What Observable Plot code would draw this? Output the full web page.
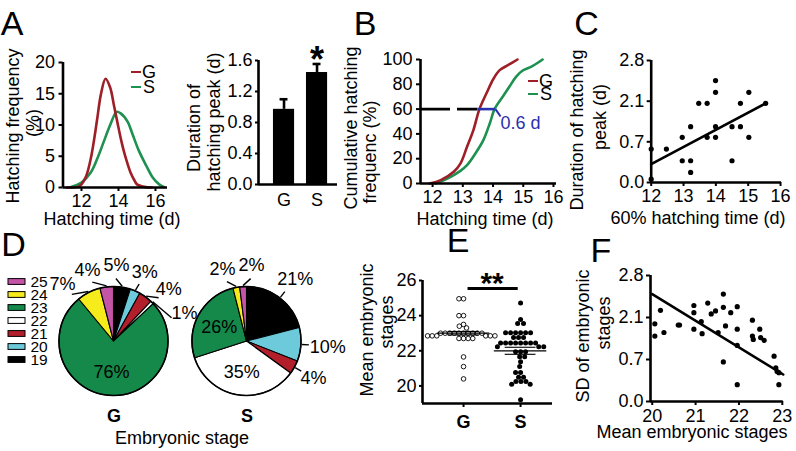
<!DOCTYPE html>
<html><head><meta charset="utf-8">
<script src="https://cdn.jsdelivr.net/npm/d3@7"></script>
<script src="https://cdn.jsdelivr.net/npm/@observablehq/plot@0.6"></script>
<style>
html,body{margin:0;padding:0;background:#fff;}
#root{position:relative;width:796px;height:451px;overflow:hidden;background:#fff;font-family:"Liberation Sans",Arial,sans-serif;color:#000;}
#root svg{position:absolute;left:0;top:0;overflow:visible;}
.lbl{position:absolute;white-space:nowrap;line-height:1;font-size:18px;}
#root svg [aria-label^="x-axis"] line, #root svg [aria-label^="x-axis"] path,
#root svg [aria-label^="y-axis"] line, #root svg [aria-label^="y-axis"] path{stroke-width:2px;}
.boldx [aria-label^="x-axis"] text{font-weight:bold;}
</style></head>
<body><div id="root"></div>
<script>
// ---------------- DATA ----------------
// Panel A (left): hatching frequency curves
const hatchTimeG = [11.2, 11.8, 12.0, 12.25, 12.5, 12.7, 12.85, 13.05, 13.3, 13.55, 13.75, 13.95, 14.15, 14.3, 14.5, 14.65, 14.85, 15.0, 15.4, 15.8];
const hatchFreqG = [0, 0.1, 0.5, 1.8, 4.6, 8, 11, 14.9, 17.4, 16, 13.2, 10.3, 7.5, 5.7, 3.7, 2.4, 1.2, 0.5, 0.1, 0];
const hatchTimeS = [11.4, 12.0, 12.5, 12.85, 13.2, 13.55, 13.9, 14.1, 14.5, 14.75, 15.1, 15.5, 15.85, 16.2, 16.45];
const hatchFreqS = [0.05, 0.8, 2.4, 4.6, 7.3, 10, 12.1, 11.9, 10.5, 8.6, 5.9, 3.5, 1.6, 0.5, 0.1];
// Panel A (right): duration of hatching peak
const barGroups = ["G", "S"];
const barMean = [0.97, 1.445];
const barErr = [0.13, 0.11];
const barSig = ["", "*"];
// Panel B: cumulative hatching frequency
const cumTimeG = [11.9, 12.27, 12.7, 12.92, 13.14, 13.35, 13.55, 13.78, 14.02, 14.22, 14.49, 14.81];
const cumFreqG = [0, 2.7, 9.4, 16, 29.6, 43, 60, 72.6, 84.7, 91.4, 95.4, 100];
const cumTimeS = [12.1, 12.49, 12.92, 13.14, 13.41, 13.68, 13.9, 14.05, 14.32, 14.54, 14.76, 14.97, 15.3, 15.64];
const cumFreqS = [0, 4, 10.2, 14.8, 24, 35, 49, 60, 70, 78, 86, 90.9, 94.6, 100];
const bLevel = 60, bStart = 11.6, bCrossG = 13.5, bCrossS = 14.08, bNote = "0.6 d";
// Panel C: 60% hatching time vs duration of hatching peak
const cTime = [12, 12, 12.47, 12.96, 12.96, 13.22, 13.22, 13.22, 13.47, 13.73, 13.73, 13.99, 13.99, 13.99, 13.99, 14.5, 14.5, 14.76, 14.76, 15.02, 15.02, 15.54];
const cDur  = [0.575, 0.058, 0.575, 0.853, 0.374, 1.221, 0.374, 0.173, 2.026, 2.026, 0.853, 2.454, 2.253, 1.221, 0.853, 1.221, 0.374, 2.026, 1.221, 2.253, 0.853, 2.026];
const cFitX = [12, 15.54], cFitY = [0.316, 2.026];
const cfTicks = [0.0, 0.7, 2.1, 2.8];
// Panel D: embryonic stage composition
const stages = ["25", "24", "23", "22", "21", "20", "19"];
const stageColors = ["#c454a6", "#f6ec1c", "#15894a", "#ffffff", "#b21f2b", "#6ccadb", "#000000"];
const pieGroups = ["G", "S"];
const pieOrder = ["19", "20", "21", "22", "23", "24", "25"];
const piePctG = [5, 3, 4, 1, 76, 7, 4];
const piePctS = [21, 10, 4, 35, 26, 2, 2];
// Panel E: mean embryonic stages
const eGroups = ["G", "S"];
const eValsG = [24.96, 24.96, 24.0, 24.0, 23.5, 23.4, 23.3, 23.0, 23.0, 23.0, 23.0, 23.0, 23.0, 23.0, 23.0, 23.0, 23.0,
  22.85, 22.85, 22.85, 22.85, 22.85, 22.85, 22.7, 22.7, 22.7, 22.7, 21.65, 21.1, 20.4];
const eValsS = [24.72, 23.78, 23.55, 23.55, 23.02, 23.02, 23.02, 23.02, 23.02, 23.02, 22.76, 22.76, 22.76,
  22.45, 22.45, 22.45, 22.45, 22.45, 22.45, 22.45, 22.45, 22.23, 22.23, 22.23, 21.94, 21.94, 21.94,
  21.66, 21.66, 21.38, 21.1, 20.76, 20.76, 20.5, 20.5, 20.25, 20.25, 20.25, 20.1, 20.1, 19.21];
const eMean = [23.0, 22.0];
const eSem = [0.1, 0.2];
const eSigLevel = 25.55, eSigLabel = "**";
// Panel F: mean embryonic stage vs SD
const fMean = [20.06, 20.06, 20.19, 20.27, 20.6, 20.63, 20.96, 20.96, 20.96, 21.13, 21.15, 21.28, 21.36, 21.46, 21.52, 21.64, 21.64, 21.69, 21.64, 21.81, 21.96, 21.96, 21.96, 21.96, 22.31, 22.31, 22.33, 22.48, 22.5, 22.58, 22.81, 22.85, 22.88, 22.92, 22.92];
const fSD   = [1.89, 1.48, 2.22, 1.6, 1.85, 1.85, 2.3, 2.18, 1.71, 1.96, 1.56, 2.34, 2.16, 2.21, 1.6, 2.49, 2.27, 1.82, 0.66, 2.18, 2.28, 1.71, 1.17, 0.28, 2.01, 1.48, 1.37, 1.71, 1.43, 1.34, 0.81, 0.56, 0.5, 0.48, 0.28];
const fFitX = [20, 23.02], fFitY = [2.49, 0.45];

// ---------------- STYLE / LAYOUT ----------------
const FONT = '"Liberation Sans", Arial, sans-serif';
const W = 796, H = 451;
const RED = "#9e1f27", GREEN = "#1e9150", BLUE = "#2a30b0";
const AX = 2.6; // axis line width
const fInt = d3.format("d"), f1 = d3.format(".1f");
const root = document.getElementById("root");

function addPlot(frame, opts, cls) {
  const svg = Plot.plot({
    width: W, height: H,
    marginLeft: frame[0], marginRight: W - frame[1], marginTop: frame[2], marginBottom: H - frame[3],
    style: {background: "transparent", fontFamily: FONT, fontSize: "18px", color: "black", overflow: "visible"},
    ...opts
  });
  if (cls) svg.classList.add(cls);
  root.appendChild(svg);
  return svg;
}
function htext(txt, cx, cy, o = {}) {
  const d = document.createElement("div");
  d.className = "lbl";
  d.textContent = txt;
  d.style.left = cx + "px"; d.style.top = cy + "px";
  d.style.fontSize = (o.size || 18) + "px";
  if (o.weight) d.style.fontWeight = o.weight;
  if (o.color) d.style.color = o.color;
  d.style.transform = "translate(-50%,-50%)" + (o.rotate ? " rotate(-90deg)" : "");
  root.appendChild(d);
}
function legendItem(x, y, color, label) {
  const dash = document.createElement("div");
  dash.style.cssText = `position:absolute;left:${x}px;top:${y - 1.3}px;width:10px;height:2.6px;background:${color}`;
  root.appendChild(dash);
  htext(label, x + 18, y);
}
const zip = (xs, ys, kx, ky) => xs.map((v, i) => ({[kx]: v, [ky]: ys[i]}));

// ---------- Panel A left ----------
{
  const x0 = 11;
  addPlot([62.5, 167, 62, 187], {
    x: {domain: [x0, 16.65], ticks: [12, 14, 16], tickFormat: fInt, tickSize: 4, tickPadding: 3, label: null},
    y: {domain: [0, 20], ticks: [0, 5, 10, 15, 20], tickFormat: fInt, tickSize: 4, tickPadding: 4, label: null},
    marks: [
      Plot.line(zip(hatchTimeS, hatchFreqS, "t", "f"), {x: "t", y: "f", stroke: GREEN, strokeWidth: 2.6, curve: "catmull-rom"}),
      Plot.line(zip(hatchTimeG, hatchFreqG, "t", "f"), {x: "t", y: "f", stroke: RED, strokeWidth: 2.6, curve: "catmull-rom"}),
      Plot.ruleY([0], {strokeWidth: AX}),
      Plot.ruleX([x0], {strokeWidth: AX})
    ]
  });
  legendItem(131, 72, RED, "G");
  legendItem(131, 87, GREEN, "S");
}
// ---------- Panel A right ----------
{
  const x0 = 0.227;
  const bars = barGroups.map((g, i) => ({i: i + 1, mean: barMean[i], hi: barMean[i] + barErr[i], sig: barSig[i]}));
  addPlot([258, 337, 60, 184], {
    x: {domain: [x0, 2.62], ticks: [1, 2], tickFormat: d => barGroups[d - 1], tickSize: 0, tickPadding: 9, label: null},
    y: {domain: [0, 1.6], ticks: [0, 0.4, 0.8, 1.2, 1.6], tickFormat: f1, tickSize: 3, tickPadding: 3, label: null},
    marks: [
      Plot.rectY(bars, {x1: d => d.i - 0.32, x2: d => d.i + 0.32, y1: 0, y2: "mean", fill: "black"}),
      Plot.ruleX(bars, {x: "i", y1: "mean", y2: "hi", strokeWidth: 2.6}),
      Plot.ruleY(bars, {y: "hi", x1: d => d.i - 0.12, x2: d => d.i + 0.12, strokeWidth: 2.6}),
      Plot.text(bars, {x: "i", y: "hi", text: "sig", dy: -4, fontSize: 36, fontWeight: "bold"}),
      Plot.ruleY([0], {strokeWidth: AX}),
      Plot.ruleX([x0], {strokeWidth: AX})
    ]
  });
}
// ---------- Panel B ----------
{
  const x0 = 11.6;
  addPlot([420, 556, 59, 183], {
    x: {domain: [x0, 16.1], ticks: [12, 13, 14, 15, 16], tickFormat: fInt, tickSize: 4, tickPadding: 3, label: null},
    y: {domain: [0, 100], ticks: [0, 20, 40, 60, 80, 100], tickFormat: fInt, tickSize: 4, tickPadding: 4, label: null},
    marks: [
      Plot.ruleY([bLevel], {x1: bStart, x2: bCrossG, strokeWidth: 2.6, strokeDasharray: "30,7"}),
      Plot.line(zip(cumTimeS, cumFreqS, "t", "f"), {x: "t", y: "f", stroke: GREEN, strokeWidth: 2.6, curve: "catmull-rom"}),
      Plot.line(zip(cumTimeG, cumFreqG, "t", "f"), {x: "t", y: "f", stroke: RED, strokeWidth: 2.6, curve: "catmull-rom"}),
      Plot.ruleY([bLevel], {x1: bCrossG, x2: bCrossS, stroke: BLUE, strokeWidth: 2.6}),
      Plot.link([bNote], {x1: bCrossS, y1: bLevel, x2: bCrossS + 0.17, y2: bLevel - 6, stroke: BLUE, strokeWidth: 2}),
      Plot.text([bNote], {x: bCrossS + 0.17, y: bLevel - 11, text: d => d, fill: BLUE, textAnchor: "start", fontSize: 18}),
      Plot.ruleY([0], {strokeWidth: AX}),
      Plot.ruleX([x0], {strokeWidth: AX})
    ]
  });
  legendItem(528, 81, RED, "G");
  legendItem(528, 94, GREEN, "S");
}
// ---------- Panel C ----------
{
  const x0 = 12;
  addPlot([650.7, 781, 60, 182], {
    x: {domain: [x0, 16.03], ticks: [12, 13, 14, 15, 16], tickFormat: fInt, tickSize: 4, tickPadding: 3, label: null},
    y: {type: "linear", domain: cfTicks, range: [182, 141.3, 100.7, 60], ticks: cfTicks, tickFormat: f1, tickSize: 4, tickPadding: 3, label: null},
    marks: [
      Plot.line(zip(cFitX, cFitY, "x", "y"), {x: "x", y: "y", strokeWidth: 2.6}),
      Plot.dot(zip(cTime, cDur, "x", "y"), {x: "x", y: "y", r: 2.6, fill: "black"}),
      Plot.ruleY([0], {strokeWidth: AX}),
      Plot.ruleX([x0], {strokeWidth: AX})
    ]
  });
}
// ---------- Panel D ----------
{
  // legend swatches
  addPlot([8, 25, 273.25, 367.75], {
    x: {domain: [0, 1], axis: null},
    y: {type: "band", domain: stages, padding: 0, axis: null},
    color: {domain: stages, range: stageColors},
    marks: [
      Plot.barX(stages, {x1: 0, x2: 1, y: d => d, fill: d => d, stroke: "black", strokeWidth: 1, insetTop: 3.6, insetBottom: 3.6}),
      Plot.text(stages, {y: d => d, text: d => d, frameAnchor: "right", dx: 5, textAnchor: "start", fontSize: 15.5})
    ]
  });
  const pcts = [piePctG, piePctS];
  const LFS = 18;
  const textW = s => [...s].reduce((w, ch) => w + (ch === "%" ? 0.889 : 0.556), 0) * LFS;
  // spread outside labels angularly so they don't collide (cluster centering)
  function spread(items, gap) {
    const clusters = items.map(o => ({members: [o]}));
    const place = c => {
      const mean = d3.mean(c.members, o => o.m), n = c.members.length;
      c.members.forEach((o, k) => o.la = mean + (k - (n - 1) / 2) * gap);
    };
    clusters.forEach(place);
    let merged = true;
    while (merged) {
      merged = false;
      for (let k = 1; k < clusters.length; k++) {
        const a = clusters[k - 1], b = clusters[k];
        if (b.members[0].la < a.members[a.members.length - 1].la + gap) {
          a.members = a.members.concat(b.members); place(a); clusters.splice(k, 1); merged = true; break;
        }
      }
    }
  }
  const pieMark = (index, scales, values, dim) => {
    const sx = scales.x;
    const bw = sx.bandwidth ? sx.bandwidth() : 110;
    const r = bw / 2;
    const cy = (dim.marginTop + dim.height - dim.marginBottom) / 2;
    const colorOf = scales.color || (s => stageColors[stages.indexOf(s)]);
    const g = d3.create("svg:g");
    pieGroups.forEach((grp, gi) => {
      const cx = sx(grp) + r;
      const slices = pieOrder.map((st, i) => ({stage: st, pct: pcts[gi][i]}));
      const arcs = d3.pie().sort(null).value(d => d.pct)(slices);
      const arc = d3.arc().innerRadius(0).outerRadius(r);
      const pg = g.append("g").attr("transform", `translate(${cx},${cy})`);
      pg.selectAll("path").data(arcs).join("path")
        .attr("d", arc).attr("fill", d => colorOf(d.data.stage))
        .attr("stroke", "black").attr("stroke-width", 1.1).attr("stroke-linejoin", "round");
      pg.append("circle").attr("r", r).attr("fill", "none").attr("stroke", "black").attr("stroke-width", 1.6);
      const outside = arcs.filter(a => a.data.pct <= 25).map(a => {
        let m = (a.startAngle + a.endAngle) / 2;
        if (m > Math.PI) m -= 2 * Math.PI;
        return {a, m, la: m};
      }).sort((p, q) => p.m - q.m);
      spread(outside, 22 * Math.PI / 180);
      for (const o of outside) {
        pg.append("line")
          .attr("x1", Math.sin(o.m) * (r + 1)).attr("y1", -Math.cos(o.m) * (r + 1))
          .attr("x2", Math.sin(o.la) * (r + 8)).attr("y2", -Math.cos(o.la) * (r + 8))
          .attr("stroke", "black").attr("stroke-width", 1.4);
        const txt = o.a.data.pct + "%";
        const d = r + 22 + Math.max(0, textW(txt) - 26) / 2 * Math.abs(Math.sin(o.la));
        pg.append("text").attr("x", Math.sin(o.la) * d).attr("y", -Math.cos(o.la) * d)
          .attr("text-anchor", "middle").attr("dy", "0.36em").attr("font-size", LFS).text(txt);
      }
      for (const a of arcs.filter(a => a.data.pct > 25)) {
        const m = (a.startAngle + a.endAngle) / 2, d = 0.57 * r;
        pg.append("text").attr("x", Math.sin(m) * d).attr("y", -Math.cos(m) * d)
          .attr("text-anchor", "middle").attr("dy", "0.36em").attr("font-size", LFS).text(a.data.pct + "%");
      }
    });
    return g.node();
  };
  addPlot([58, 302, 286, 396], {
    x: {type: "band", domain: pieGroups, paddingInner: 0.179, paddingOuter: 0, tickSize: 0, tickPadding: 13, label: null},
    color: {domain: stages, range: stageColors},
    marks: [pieMark]
  }, "boldx");
}
// ---------- Panel E ----------
{
  const x0 = 0.28, x1 = 2.56, fr = [422, 552, 280, 403];
  const stats = eGroups.map((g, i) => ({i: i + 1, mean: eMean[i], sem: eSem[i]}));
  addPlot(fr, {
    x: {domain: [x0, x1], ticks: [1, 2], tickFormat: d => eGroups[d - 1], tickSize: 4, tickPadding: 8, label: null},
    y: {domain: [19, 26], ticks: [20, 22, 24, 26], tickFormat: fInt, tickSize: 3, tickPadding: 3, label: null},
    marks: [
      Plot.ruleY(stats, {y: "mean", x1: d => d.i - 0.46, x2: d => d.i + 0.46, strokeWidth: 1.3}),
      Plot.ruleY(stats, {y: d => d.mean + d.sem, x1: d => d.i - 0.27, x2: d => d.i + 0.27, strokeWidth: 1.1}),
      Plot.ruleY(stats, {y: d => d.mean - d.sem, x1: d => d.i - 0.27, x2: d => d.i + 0.27, strokeWidth: 1.1}),
      Plot.link([eSigLabel], {x1: 1.07, x2: 1.95, y1: eSigLevel, y2: eSigLevel, strokeWidth: 3}),
      Plot.text([eSigLabel], {x: 1.5, y: eSigLevel, text: d => d, dy: -5.5, fontSize: 30, fontWeight: "bold"}),
      Plot.ruleY([19], {strokeWidth: AX}),
      Plot.ruleX([x0], {strokeWidth: AX})
    ]
  }, "boldx");
  const cxOf = i => fr[0] + (i - x0) / (x1 - x0) * (fr[1] - fr[0]);
  [[eValsG, "none", "black", 2.3], [eValsS, "black", "none", 2.5]].forEach(([vals, fill, stroke, r], k) => {
    const cx = cxOf(k + 1);
    addPlot([cx - 30, cx + 30, fr[2], fr[3]], {
      y: {domain: [19, 26], axis: null},
      marks: [Plot.dot(vals, Plot.dodgeX({anchor: "middle", padding: 0}, {y: d => d, r, fill, stroke, strokeWidth: 0.9}))]
    });
  });
}
// ---------- Panel F ----------
{
  const x0 = 19.96;
  addPlot([650, 782.7, 275, 401], {
    x: {domain: [x0, 23.02], ticks: [20, 21, 22, 23], tickFormat: fInt, tickSize: 4, tickPadding: 4, label: null},
    y: {type: "linear", domain: cfTicks, range: [401, 359, 317, 275], ticks: cfTicks, tickFormat: f1, tickSize: 4, tickPadding: 3, label: null},
    marks: [
      Plot.line(zip(fFitX, fFitY, "x", "y"), {x: "x", y: "y", strokeWidth: 2.6}),
      Plot.dot(zip(fMean, fSD, "x", "y"), {x: "x", y: "y", r: 2.6, fill: "black"}),
      Plot.ruleY([0], {strokeWidth: AX}),
      Plot.ruleX([x0], {strokeWidth: AX})
    ]
  });
}

// ---------------- TEXT LABELS ----------------
const LET = 34;
htext("A", 12, 22.5, {size: LET});
htext("B", 365, 22.5, {size: LET});
htext("C", 586.5, 22.5, {size: LET});
htext("D", 13.5, 243.5, {size: LET});
htext("E", 458, 240, {size: LET});
htext("F", 601, 250, {size: LET});

htext("Hatching frequency", 13, 126, {rotate: true});
htext("(%)", 33, 123, {rotate: true});
htext("Hatching time (d)", 112, 219);
htext("Duration of", 194, 128, {rotate: true});
htext("hatching peak (d)", 214, 122, {rotate: true});
htext("Cumulative hatching", 351, 128, {rotate: true});
htext("frequenc (%)", 370, 152, {rotate: true});
htext("Hatching time (d)", 485, 219);
htext("Duration of hatching", 577, 130, {rotate: true});
htext("peak (d)", 600, 117, {rotate: true});
htext("60% hatching time (d)", 698, 218);
htext("Embryonic stage", 182, 438);
htext("Mean embryonic", 367, 330, {rotate: true});
htext("stages", 387, 322, {rotate: true});
htext("SD of embryonic", 583, 336, {rotate: true});
htext("stages", 604, 323, {rotate: true});
htext("Mean embryonic stages", 692, 432);
</script>
</body></html>
